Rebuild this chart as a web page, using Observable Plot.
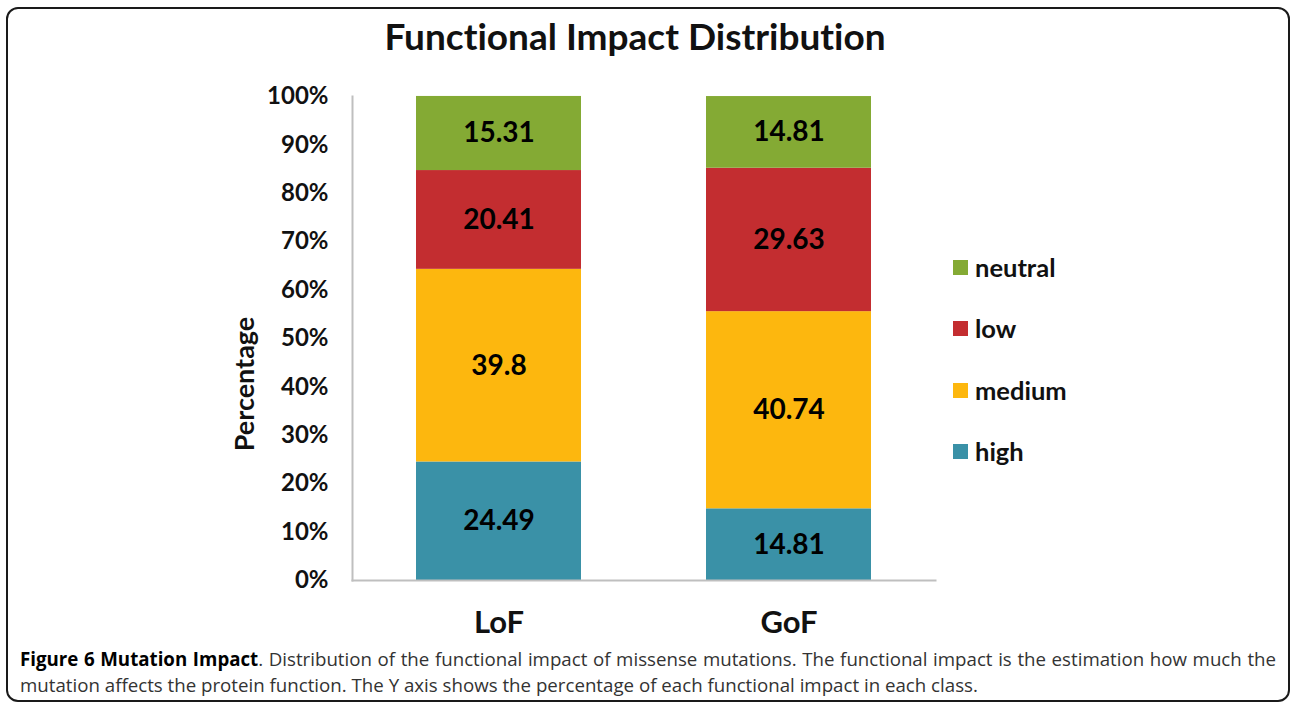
<!DOCTYPE html>
<html>
<head>
<meta charset="utf-8">
<script src="https://cdn.jsdelivr.net/npm/d3@7"></script>
<script src="https://cdn.jsdelivr.net/npm/@observablehq/plot@0.6"></script>
<style>
  html, body { margin: 0; padding: 0; background: #fff; }
  #page { position: relative; width: 1292px; height: 704px; overflow: hidden; font-family: Lato, "Open Sans", sans-serif; font-variant-ligatures: none; }
  #border { position: absolute; left: 6px; top: 7px; width: 1280px; height: 691px; border: 2px solid #1a1a1a; border-radius: 12px; }
  #title { position: absolute; left: 0; width: 1270px; top: 13px; text-align: center; font: bold 37px Lato, sans-serif; color: #111; font-variant-ligatures: none; }
  #chart { position: absolute; left: 0; top: 0; }
  #chart svg text { font-variant-ligatures: none; }
  #ylabel { position: absolute; left: 243px; top: 384px; transform: translate(-50%, -50%) rotate(-90deg); font: bold 27px Lato, sans-serif; color: #111; white-space: nowrap; }
  #legend { position: absolute; left: 953px; top: 0; }
  .item { position: absolute; left: 0; display: flex; align-items: center; white-space: nowrap; font: bold 25.5px Lato, sans-serif; color: #111; transform: translateY(-50%); }
  .sw { width: 15px; height: 15px; margin-right: 7px; }
  .cap { position: absolute; left: 20px; width: 1256px; font: 18.7px "Open Sans", sans-serif; color: #333; white-space: nowrap; }
  .cap b { color: #000; }
</style>
</head>
<body>
<div id="page">
  <div id="border"></div>
  <div id="chart"></div>
  <div id="title">Functional Impact Distribution</div>
  <div id="ylabel">Percentage</div>
  <div id="legend"></div>
  <div class="cap" id="cap1" style="top:646px; text-align: justify; text-align-last: justify; white-space: normal;"><b>Figure 6 Mutation Impact</b>. Distribution of the functional impact of missense mutations. The functional impact is the estimation how much the</div>
  <div class="cap" id="cap2" style="top:672px;">mutation affects the protein function. The Y axis shows the percentage of each functional impact in each class.</div>
</div>
<script>
// Mutation classes along the x axis
const groups = ["LoF", "GoF"];
// Impact levels, bottom to top of each stack
const levels = ["high", "medium", "low", "neutral"];
const levelColors = ["#3a91a7", "#fdb70e", "#c32d30", "#84aa34"];
// Percentages per level (same order as levels)
const lofValues = [24.49, 39.8, 20.41, 15.31];
const gofValues = [14.81, 40.74, 29.63, 14.81];
const yTicks = [0, 10, 20, 30, 40, 50, 60, 70, 80, 90, 100];

const rows = [];
levels.forEach((lv, i) => {
  rows.push({group: "LoF", level: lv, value: lofValues[i]});
  rows.push({group: "GoF", level: lv, value: gofValues[i]});
});

const W = 1292, H = 660;
const chart = Plot.plot({
  width: W,
  height: H,
  marginLeft: 352,
  marginRight: W - 935,
  marginTop: 96,
  marginBottom: H - 580,
  style: {fontFamily: "Lato, sans-serif", background: "transparent", overflow: "visible"},
  x: {domain: groups, paddingInner: 0.431, paddingOuter: 0.22, label: null},
  y: {domain: [0, 100], label: null},
  color: {domain: levels, range: levelColors},
  marks: [
    Plot.barY(rows, {x: "group", y: "value", fill: "level", z: "level", order: levels}),
    Plot.text(rows, Plot.stackY({
      x: "group", y: "value", z: "level", order: levels,
      text: d => String(d.value),
      fontSize: 28, fontWeight: "bold", fill: "#000"
    })),
    Plot.frame({anchor: "left", stroke: "#bfbfbf", strokeWidth: 2}),
    Plot.frame({anchor: "bottom", stroke: "#bfbfbf", strokeWidth: 2}),
    Plot.axisY({ticks: yTicks, tickFormat: d => d + "%", tickSize: 0, tickPadding: 24, fontSize: 24, fontWeight: "bold", fill: "#111", label: null}),
    Plot.axisX({tickSize: 0, tickPadding: 30, fontSize: 31, fontWeight: "bold", fill: "#111", label: null})
  ]
});
document.getElementById("chart").appendChild(chart);

// Legend, top entry first
const legend = document.getElementById("legend");
const legendY = [267, 328, 390, 451];
levels.slice().reverse().forEach((lv, i) => {
  const item = document.createElement("div");
  item.className = "item";
  item.style.top = legendY[i] + "px";
  const sw = document.createElement("div");
  sw.className = "sw";
  sw.style.background = levelColors[levels.indexOf(lv)];
  item.appendChild(sw);
  item.appendChild(document.createTextNode(lv));
  legend.appendChild(item);
});
</script>
</body>
</html>
